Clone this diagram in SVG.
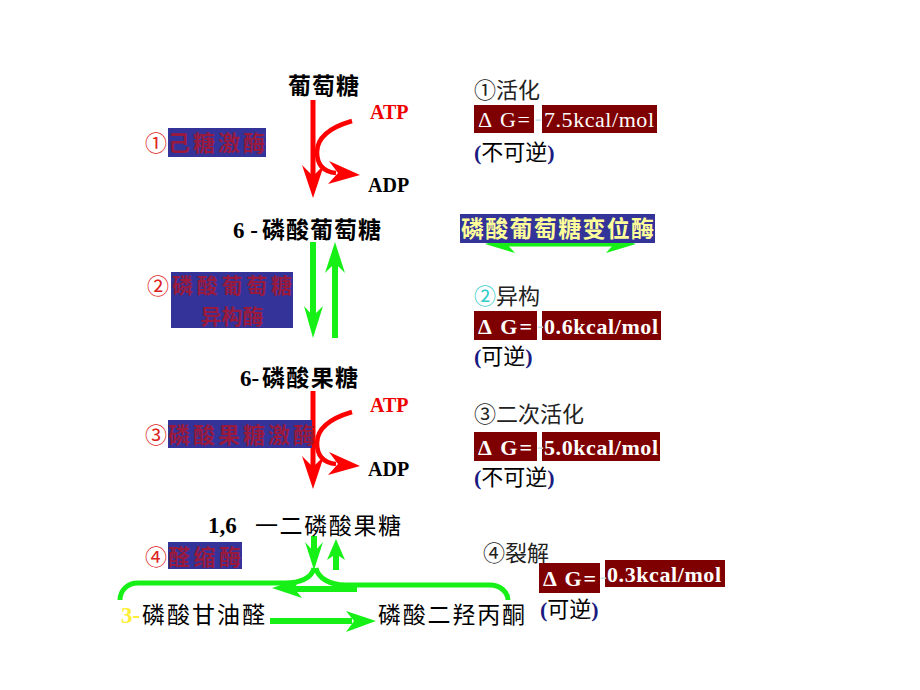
<svg xmlns="http://www.w3.org/2000/svg" width="920" height="690" viewBox="0 0 920 690">
<defs>
<style>
.cjk{font-family:"Noto Sans CJK SC","Liberation Sans",sans-serif;}
.ser{font-family:"Liberation Serif","Noto Sans CJK SC",serif;}
.node{font-size:23px;fill:#000;}
.bold{font-weight:bold;}
.enzbox{fill:#333399;}
.enzt{fill:#991a3d;font-size:22px;font-weight:bold;}
.num{fill:#dd2222;font-size:22px;}
.dgbox{fill:#7f0000;}
.dgt{fill:#fff;font-size:22px;}
.note{font-size:22px;fill:#222;}
.par{fill:#1a1a80;font-weight:bold;}
.faint{fill:#c8e2ec;font-size:20px;}
.red{stroke:#ff0000;stroke-width:5;fill:none;}
.redf{fill:#ff0000;}
.grn{stroke:#17f017;stroke-width:6;fill:none;}
.grnf{fill:#17f017;}
.atp{fill:#ee0000;font-size:20px;font-weight:bold;}
.adp{fill:#000;font-size:20px;font-weight:bold;}
</style>
</defs>
<rect width="920" height="690" fill="#fff"/>

<!-- connectors -->
<g id="connectors">
  <g id="step1-arrow">
    <path class="red" d="M313,100 V180"/>
    <path class="redf" d="M313,198 L302,165 L313,176 L324,165 Z"/>
    <path class="red" style="stroke-width:4.5" d="M352,121 C328,128 317,138 317,152 C317,166 325,172 336,173"/>
    <path class="redf" d="M360,175 L329,161 L338,173 L328,184 Z"/>
  </g>
  <g id="step3-arrow" transform="translate(0,291)">
    <path class="red" d="M313,100 V180"/>
    <path class="redf" d="M313,198 L302,165 L313,176 L324,165 Z"/>
    <path class="red" style="stroke-width:4.5" d="M352,121 C328,128 317,138 317,152 C317,166 325,172 336,173"/>
    <path class="redf" d="M360,175 L329,161 L338,173 L328,184 Z"/>
  </g>
  <g id="step2-arrows">
    <path class="grn" d="M313,242 V322"/>
    <path class="grnf" d="M313,338 L304,306 L313,316 L323,306 Z"/>
    <path class="grn" d="M335,338 V258"/>
    <path class="grnf" d="M335,242 L325,273 L335,263 L345,273 Z"/>
  </g>
  <g id="mutase-arrow">
    <path class="grn" style="stroke-width:5" d="M502,244 H620"/>
    <path class="grnf" d="M485,244 L515,235 L507,244 L515,253 Z"/>
    <path class="grnf" d="M636,244 L606,235 L614,244 L606,253 Z"/>
  </g>
  <g id="step4-arrows">
    <path class="grn" d="M314,536 V552"/>
    <path class="grnf" d="M314,570 L305,542 L314,552 L323,542 Z"/>
    <path class="grn" d="M336,570 V553"/>
    <path class="grnf" d="M336,539 L327,560 L336,554 L345,560 Z"/>
    <path class="grn" style="stroke-width:5" d="M314,568 C312,578 300,583 285,583 H138 C128,583 120,590 120,600"/>
    <path class="grn" style="stroke-width:5" d="M316,568 C318,578 330,585 345,585 H490 C500,585 508,592 508,600"/>
    <path class="grn" d="M357,589 H292"/>
    <path class="grnf" d="M272,588 L302,578 L294,588 L302,598 Z"/>
    <path class="grn" d="M270,621 H352"/>
    <path class="grnf" d="M376,621 L346,611 L354,621 L346,632 Z"/>
  </g>
</g>

<!-- substrate nodes -->
<g id="glucose">
  <text class="cjk node bold" x="288" y="94" textLength="71">葡萄糖</text>
</g>
<g id="g6p">
  <text class="ser node bold" x="233" y="238">6 -</text>
  <text class="cjk node bold" x="262" y="238" textLength="119">磷酸葡萄糖</text>
</g>
<g id="f6p">
  <text class="ser node bold" x="240" y="386">6-</text>
  <text class="cjk node bold" x="262" y="386" textLength="96">磷酸果糖</text>
</g>
<g id="fbp">
  <text class="ser node bold" x="208" y="533">1,6</text>
  <text class="cjk node" x="255" y="534" textLength="146">一二磷酸果糖</text>
</g>
<g id="gap">
  <text class="ser node bold" x="121" y="623" style="fill:#ffee33">3-</text>
  <text class="cjk node" x="142" y="623" textLength="123">磷酸甘油醛</text>
</g>
<g id="dhap">
  <text class="cjk node" x="378" y="623" textLength="147">磷酸二羟丙酮</text>
</g>

<!-- ATP / ADP -->
<g id="atp1"><text class="ser atp" x="370" y="119">ATP</text></g>
<g id="adp1"><text class="ser adp" x="368" y="192">ADP</text></g>
<g id="atp2"><text class="ser atp" x="370" y="412">ATP</text></g>
<g id="adp2"><text class="ser adp" x="368" y="476">ADP</text></g>

<!-- enzyme labels -->
<g id="enzyme1">
  <text class="cjk num" x="145" y="151">①</text>
  <rect class="enzbox" x="168" y="128" width="98" height="29"/>
  <text class="cjk enzt" x="168" y="151" textLength="97">己糖激酶</text>
</g>
<g id="enzyme2">
  <text class="cjk num" x="147" y="294">②</text>
  <rect class="enzbox" x="171" y="272" width="122" height="56"/>
  <text class="cjk enzt" x="172" y="293" style="font-size:21px" textLength="120">磷酸葡萄糖</text>
  <text class="cjk enzt" x="232" y="324" style="font-size:21px" text-anchor="middle">异构酶</text>
</g>
<g id="enzyme3">
  <text class="cjk num" x="145" y="443">③</text>
  <rect class="enzbox" x="168" y="420" width="144" height="28"/>
  <text class="cjk enzt" x="168" y="443" textLength="147">磷酸果糖激酶</text>
</g>
<g id="enzyme4">
  <text class="cjk num" x="145" y="565">④</text>
  <rect class="enzbox" x="168" y="542" width="74" height="27"/>
  <text class="cjk enzt" x="168" y="565" textLength="73">醛缩酶</text>
</g>
<g id="mutase">
  <rect class="enzbox" x="460" y="214" width="195" height="29"/>
  <text class="cjk" x="461" y="237" font-size="23" font-weight="600" fill="#ffff99" textLength="193">磷酸葡萄糖变位酶</text>
</g>

<!-- energy notes -->
<g id="note1">
  <text class="cjk note" x="474" y="98">①活化</text>
  <rect class="dgbox" x="474" y="105" width="60" height="28"/>
  <rect class="dgbox" x="542" y="105" width="115" height="28"/>
  <text class="ser dgt" x="478" y="127" textLength="52">Δ G=</text>
  <text class="ser faint" x="535" y="125">-</text>
  <text class="ser dgt" x="544" y="127" textLength="110">7.5kcal/mol</text>
  <text class="cjk note" x="474" y="160" style="fill:#000"><tspan class="ser par">(</tspan>不可逆<tspan class="ser par">)</tspan></text>
</g>
<g id="note2">
  <text class="cjk note" x="474" y="304"><tspan fill="#33cccc">②</tspan>异构</text>
  <rect class="dgbox" x="474" y="311" width="63" height="29"/>
  <rect class="dgbox" x="542" y="311" width="119" height="29"/>
  <text class="ser dgt bold" x="478" y="334" textLength="54">Δ G=</text>
  <text class="ser faint" x="537" y="332">-</text>
  <text class="ser dgt bold" x="544" y="334" textLength="114">0.6kcal/mol</text>
  <text class="cjk note" x="474" y="364" style="fill:#000"><tspan class="ser par">(</tspan>可逆<tspan class="ser par">)</tspan></text>
</g>
<g id="note3">
  <text class="cjk note" x="474" y="422">③二次活化</text>
  <rect class="dgbox" x="474" y="432" width="63" height="29"/>
  <rect class="dgbox" x="542" y="432" width="118" height="29"/>
  <text class="ser dgt bold" x="478" y="455" textLength="54">Δ G=</text>
  <text class="ser faint" x="537" y="453">-</text>
  <text class="ser dgt bold" x="544" y="455" textLength="114">5.0kcal/mol</text>
  <text class="cjk note" x="474" y="485" style="fill:#000"><tspan class="ser par">(</tspan>不可逆<tspan class="ser par">)</tspan></text>
</g>
<g id="note4">
  <text class="cjk note" x="483" y="561">④裂解</text>
  <rect class="dgbox" x="539" y="563" width="61" height="30"/>
  <rect class="dgbox" x="605" y="560" width="120" height="27"/>
  <text class="ser dgt bold" x="543" y="586" textLength="53">Δ G=</text>
  <text class="ser faint" x="600" y="583">-</text>
  <text class="ser dgt bold" x="607" y="582" textLength="114">0.3kcal/mol</text>
  <text class="cjk note" x="540" y="617" style="fill:#000"><tspan class="ser par">(</tspan>可逆<tspan class="ser par">)</tspan></text>
</g>
</svg>
